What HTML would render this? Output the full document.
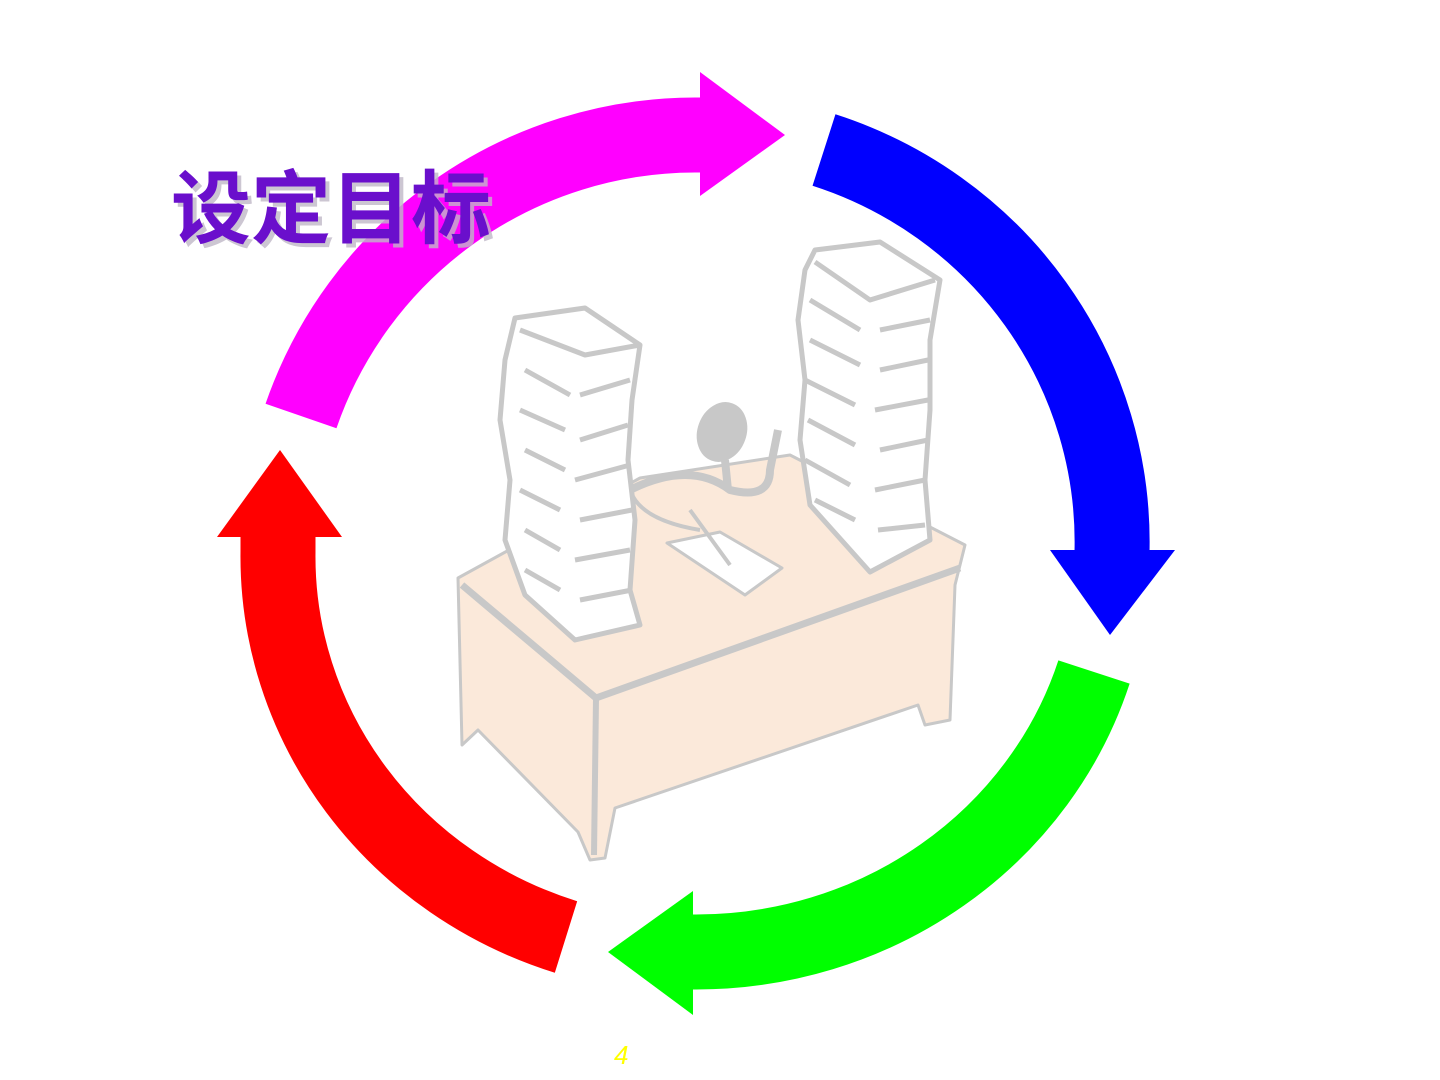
<!DOCTYPE html>
<html><head><meta charset="utf-8"><style>
html,body{margin:0;padding:0;background:#fff;width:1440px;height:1080px;overflow:hidden}
svg{position:absolute;left:0;top:0}
.t{font-family:"Liberation Sans","Noto Sans CJK SC",sans-serif;font-weight:bold}
</style></head><body>
<svg width="1440" height="1080" viewBox="0 0 1440 1080">
<g stroke="#c8c8c8" stroke-linejoin="round">
<path d="M458,578 L640,478 L790,455 L965,545 L955,585 L950,720 L925,725 L918,705 L615,808 L605,858 L590,860 L578,832 L478,730 L462,745 Z" fill="#fbe9da" stroke-width="3"/>
<path d="M462,585 L596,698 L960,568" fill="none" stroke-width="7"/>
<path d="M596,698 L594,855" fill="none" stroke-width="6"/>
<ellipse cx="722" cy="432" rx="24" ry="30" fill="#c8c8c8" transform="rotate(20 722 432)"/>
<path d="M725,460 L728,490 M630,490 Q690,460 730,490 Q770,500 770,470 L778,430" fill="none" stroke-width="8"/>
<path d="M630,490 Q640,520 700,530" fill="none" stroke-width="4"/>
<path d="M667,543 L720,532 L782,568 L745,595 Z" fill="#fff" stroke-width="3"/>
<path d="M690,510 L730,565" stroke-width="4"/>
<path d="M515,318 L585,308 L640,345 L632,400 L628,460 L635,520 L630,590 L640,625 L575,640 L525,595 L505,540 L510,480 L500,420 L505,360 Z" fill="#fff" stroke-width="5"/>
<path d="M520,330 L585,355 L640,345 M525,370 L570,395 M520,410 L565,430 M525,450 L565,470 M520,490 L560,510 M525,530 L560,550 M525,570 L560,590 M580,395 L630,380 M580,440 L628,425 M575,480 L630,465 M580,520 L632,510 M575,560 L630,550 M580,600 L632,590" fill="none" stroke-width="5"/>
<path d="M815,250 L880,242 L940,280 L930,340 L930,410 L925,480 L930,540 L870,572 L810,505 L800,440 L805,380 L798,320 L805,270 Z" fill="#fff" stroke-width="5"/>
<path d="M815,262 L870,300 L935,280 M810,300 L860,330 M810,340 L860,365 M805,380 L855,405 M808,420 L855,445 M805,460 L850,485 M815,500 L855,520 M880,330 L930,320 M880,370 L928,360 M875,410 L928,400 M880,450 L928,440 M875,490 L925,480 M878,530 L925,525" fill="none" stroke-width="5"/>
</g>
<g fill="none" stroke-width="75" stroke-linecap="butt">
<path d="M301,416 A417,417 0 0 1 695,135 L705,135" stroke="#ff00ff"/>
<path d="M824,150 A417,412 0 0 1 1112,552" stroke="#0000ff"/>
<path d="M1094,672 A417,400 0 0 1 695,952 L690,952" stroke="#00ff00"/>
<path d="M566,937 A417,400 0 0 1 278,552 L278,535" stroke="#ff0000"/>
</g>
<polygon points="700,72 785,135 700,196" fill="#ff00ff"/>
<polygon points="1050,550 1175,550 1110,635" fill="#0000ff"/>
<polygon points="693,891 608,952 693,1015" fill="#00ff00"/>
<polygon points="217,537 342,537 280,450" fill="#ff0000"/>
<text x="175" y="241" class="t" font-size="80" fill="#c0b8c8" opacity="0.8">设定目标</text>
<text x="171" y="237" class="t" font-size="80" fill="#6a0fcc">设定目标</text>
<text x="614" y="1064" font-family="Liberation Sans,sans-serif" font-style="italic" font-size="26" fill="#ffff00">4</text>
</svg>
</body></html>
